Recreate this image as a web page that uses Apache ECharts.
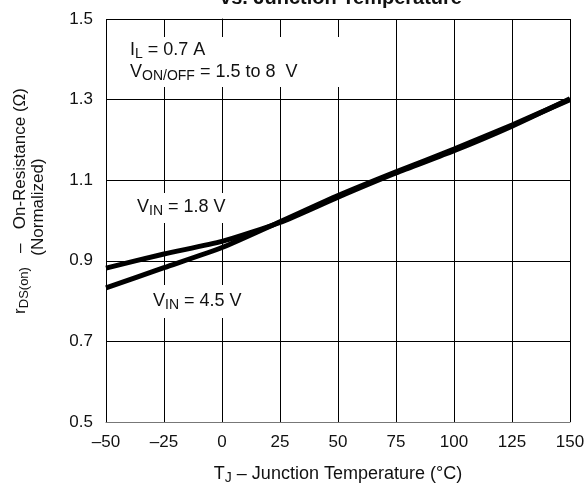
<!DOCTYPE html>
<html>
<head>
<meta charset="utf-8">
<script src="https://cdn.jsdelivr.net/npm/echarts@6/dist/echarts.min.js"></script>
<style>
  html, body { margin: 0; padding: 0; background: #fff; }
  #main { width: 588px; height: 489px; }
</style>
</head>
<body>
<div id="main"></div>
<script>
// 数据：结温与归一化导通电阻
var temps = [-50, -25, 0, 25, 50, 75, 100, 125, 150];
var vin18 = [0.882, 0.917, 0.948, 0.995, 1.058, 1.118, 1.173, 1.234, 1.302];
var vin45 = [0.833, 0.883, 0.933, 0.997, 1.062, 1.121, 1.177, 1.237, 1.300];
var yTicks = ['0.5', '0.7', '0.9', '1.1', '1.3', '1.5'];

var font = 'Liberation Sans, Arial, sans-serif';
var sub = { fontSize: 14, fontFamily: font, fill: '#111', padding: [8, 0, 0, 0] };
var subSmall = { fontSize: 13, fontFamily: font, fill: '#111', padding: [8, 0, 0, 0] };

function pairs(ys) {
    return temps.map(function (t, i) { return [t, ys[i]]; });
}

// 图中文字（带下标）
function label(x, y, text, opts) {
    opts = opts || {};
    return {
        type: 'text',
        x: x,
        y: y,
        z: 10,
        rotation: opts.rotation || 0,
        style: {
            text: text,
            fontSize: opts.size || 18,
            fontFamily: font,
            fill: '#111',
            align: opts.align || 'left',
            verticalAlign: 'middle',
            rich: { sub: opts.sub || sub }
        }
    };
}

function whiteBox(x, y, w, h) {
    return { type: 'rect', z: 5, shape: { x: x, y: y, width: w, height: h }, style: { fill: '#fff' } };
}

var myChart = echarts.init(document.getElementById('main'));
myChart.setOption({
    animation: false,
    backgroundColor: '#fff',
    grid: { left: 106, right: 18, top: 19, bottom: 67 },
    xAxis: {
        type: 'value',
        min: -50,
        max: 150,
        interval: 25,
        axisLine: { lineStyle: { color: '#777', width: 1 } },
        axisTick: { show: false },
        splitLine: { lineStyle: { color: '#000', width: 1 } },
        axisLabel: {
            margin: 12,
            fontSize: 17,
            fontFamily: font,
            color: '#111',
            formatter: function (v) { return String(v).replace('-', '\u2013'); }
        }
    },
    yAxis: {
        type: 'value',
        min: 0.5,
        max: 1.5,
        interval: 0.2,
        axisLine: { show: true, lineStyle: { color: '#000', width: 1 } },
        axisTick: { show: false },
        splitLine: { lineStyle: { color: '#000', width: 1 } },
        axisLabel: {
            margin: 13,
            fontSize: 17,
            fontFamily: font,
            color: '#111',
            formatter: function (v) { return yTicks[Math.round((v - 0.5) / 0.2)]; }
        }
    },
    series: [
        {
            name: 'VIN = 1.8 V',
            type: 'line',
            z: 20,
            smooth: 0.2,
            symbol: 'none',
            lineStyle: { color: '#000', width: 5 },
            data: pairs(vin18)
        },
        {
            name: 'VIN = 4.5 V',
            type: 'line',
            z: 20,
            smooth: 0.2,
            symbol: 'none',
            lineStyle: { color: '#000', width: 5 },
            data: pairs(vin45)
        }
    ],
    graphic: [
        whiteBox(125, 37, 230, 50),
        whiteBox(130, 193, 105, 30),
        whiteBox(146, 285, 104, 33),
        {
            type: 'text', x: 341, y: 8, z: 10,
            style: {
                text: 'vs. Junction Temperature', fontSize: 20, fontWeight: 'bold',
                fontFamily: font, fill: '#111', align: 'center', verticalAlign: 'bottom'
            }
        },
        label(130, 50, 'I{sub|L} = 0.7 A'),
        label(130, 72, 'V{sub|ON/OFF} = 1.5 to 8  V'),
        label(137, 207, 'V{sub|IN} = 1.8 V'),
        label(153, 301, 'V{sub|IN} = 4.5 V'),
        label(338, 474, 'T{sub|J} \u2013 Junction Temperature (\u00b0C)', { align: 'center' }),
        label(20, 201, 'r{sub|DS(on)}   \u2013   On-Resistance (\u03a9)',
            { rotation: Math.PI / 2, align: 'center', size: 17, sub: subSmall }),
        label(38, 207, '(Normalized)', { rotation: Math.PI / 2, align: 'center', size: 17 })
    ]
});
</script>
</body>
</html>
